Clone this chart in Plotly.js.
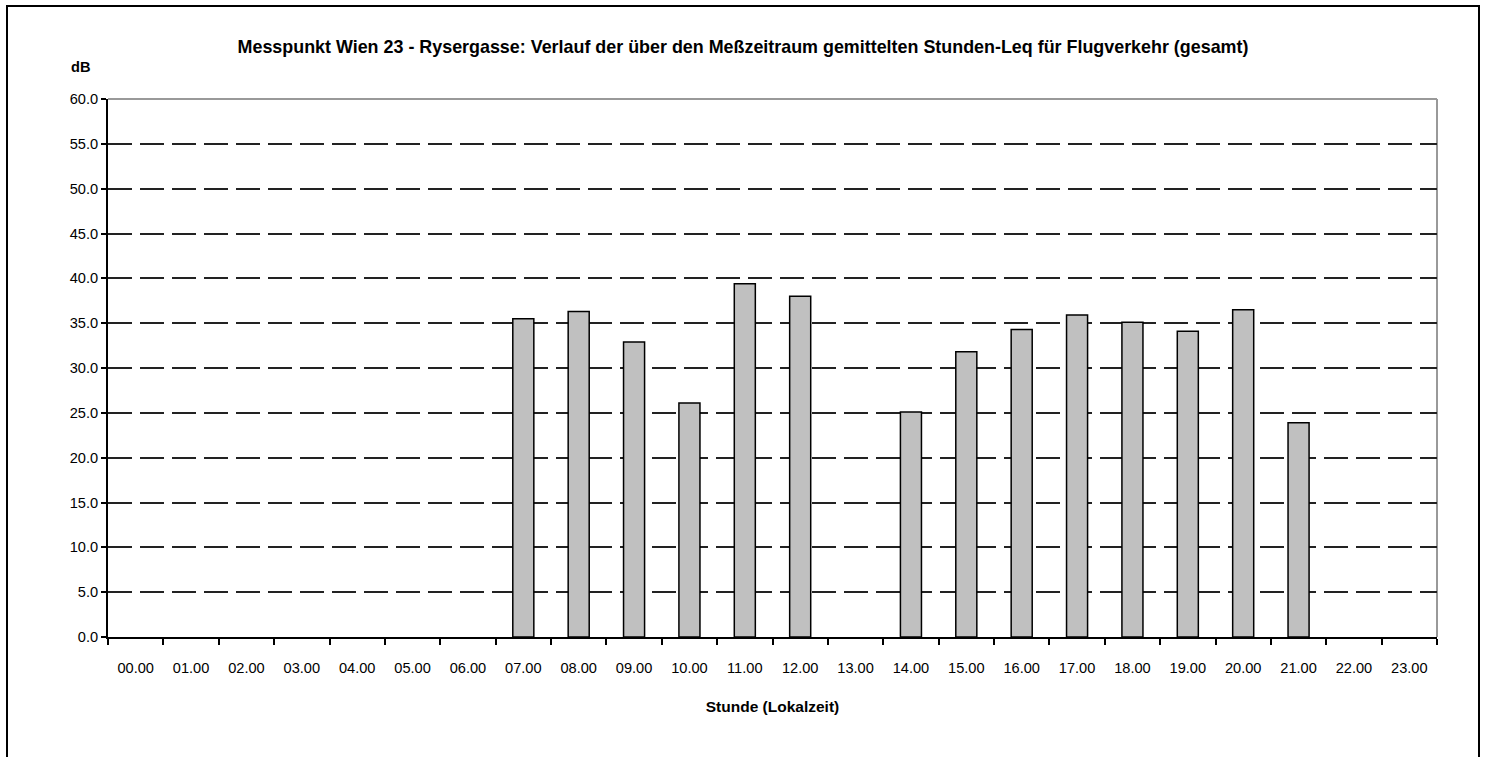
<!DOCTYPE html>
<html>
<head>
<meta charset="utf-8">
<script src="https://cdn.plot.ly/plotly-3.0.1.min.js"></script>
<style>
  html, body { margin: 0; padding: 0; background: #fff; overflow: hidden; }
  #chart { width: 1486px; height: 757px; }
  #frame { position: absolute; left: 6px; top: 5px; width: 1470px; height: 800px;
           border: 2px solid #000; pointer-events: none; }
</style>
</head>
<body>
<div id="chart"></div>
<div id="frame"></div>
<script>
const hours = ["00.00","01.00","02.00","03.00","04.00","05.00","06.00","07.00","08.00","09.00","10.00","11.00",
               "12.00","13.00","14.00","15.00","16.00","17.00","18.00","19.00","20.00","21.00","22.00","23.00"];
const leqValues = [null,null,null,null,null,null,null,35.5,36.3,32.9,26.1,39.4,
                   38.0,null,25.1,31.8,34.3,35.9,35.1,34.1,36.5,23.9,null,null];
const yTicks = [0,5,10,15,20,25,30,35,40,45,50,55,60];

const FONT = '"Liberation Sans Narrow", "Arial Narrow", "Liberation Sans", Arial, sans-serif';

const trace = {
  type: 'bar',
  x: hours,
  y: leqValues,
  marker: { color: '#c0c0c0', line: { color: '#000', width: 1.5 } },
  hoverinfo: 'x+y'
};

const layout = {
  width: 1486, height: 757,
  margin: { l: 108, r: 49, t: 99, b: 120 },
  paper_bgcolor: '#fff', plot_bgcolor: '#fff',
  showlegend: false,
  bargap: 0.62,
  font: { family: FONT, color: '#000', size: 14.6 },
  title: {
    text: '<b>Messpunkt Wien 23 - Rysergasse: Verlauf der über den Meßzeitraum gemittelten Stunden-Leq für Flugverkehr (gesamt)</b>',
    font: { family: FONT, size: 17.9, color: '#000' },
    x: 0.5, xanchor: 'center', y: 0.938, yanchor: 'middle'
  },
  xaxis: {
    type: 'category',
    range: [-0.5, 23.5],
    showline: true, linecolor: '#000', linewidth: 2,
    ticks: 'outside', tickson: 'boundaries', ticklen: 6, tickcolor: '#000', tickwidth: 1.5,
    ticklabelstandoff: 16,
    showgrid: false, zeroline: false,
    tickfont: { family: FONT, size: 14.6, color: '#000' },
    title: { text: '<b>Stunde (Lokalzeit)</b>', font: { family: FONT, size: 15.5, color: '#000' }, standoff: 27 }
  },
  yaxis: {
    range: [0, 60],
    tickvals: yTicks,
    tickformat: '.1f',
    showline: true, linecolor: '#000', linewidth: 2,
    ticks: 'outside', ticklen: 5, tickcolor: '#000', tickwidth: 1.5,
    showgrid: true, gridcolor: '#222', gridwidth: 2, griddash: '24px,8px',
    zeroline: false,
    tickfont: { family: FONT, size: 14.6, color: '#000' }
  },
  shapes: [
    { type: 'line', xref: 'paper', yref: 'paper', x0: 0, x1: 1, y0: 1, y1: 1,
      line: { color: '#999', width: 2 }, layer: 'below' },
    { type: 'line', xref: 'paper', yref: 'paper', x0: 1, x1: 1, y0: 0, y1: 1,
      line: { color: '#999', width: 2 }, layer: 'below' }
  ],
  annotations: [
    { text: '<b>dB</b>', xref: 'paper', yref: 'paper', x: -0.021, y: 1.0595,
      xanchor: 'center', yanchor: 'middle', showarrow: false,
      font: { family: FONT, size: 14.6, color: '#000' } }
  ]
};

Plotly.newPlot('chart', [trace], layout, { displayModeBar: false });
</script>
</body>
</html>
